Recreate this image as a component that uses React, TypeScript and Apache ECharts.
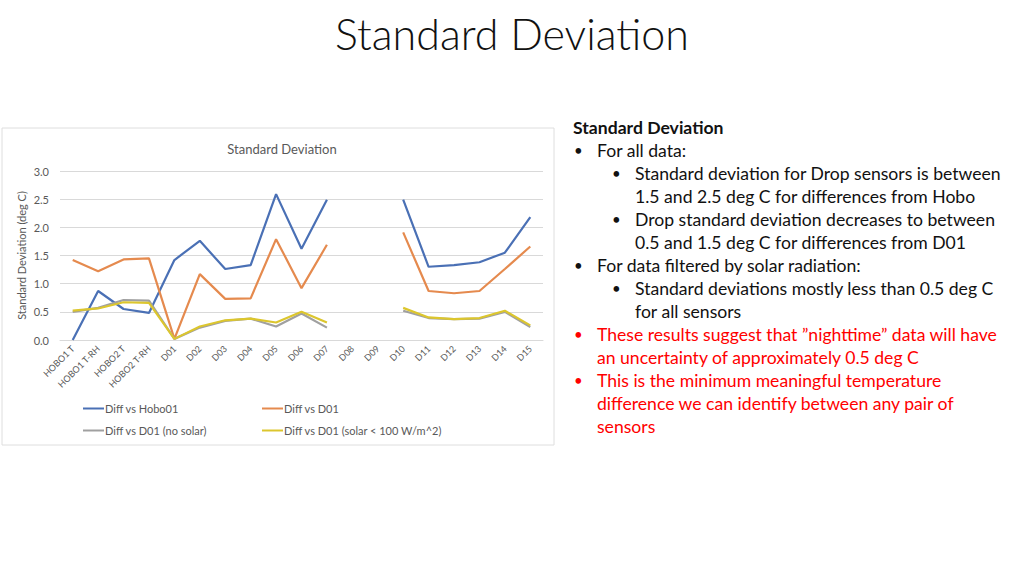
import React, { useEffect, useRef } from "react";
import * as echarts from "echarts";

const categories = [
  "HOBO1 T", "HOBO1 T-RH", "HOBO2 T", "HOBO2 T-RH",
  "D01", "D02", "D03", "D04", "D05", "D06", "D07", "D08", "D09",
  "D10", "D11", "D12", "D13", "D14", "D15",
];

const diffVsHobo01 = [0.0, 0.87, 0.55, 0.48, 1.42, 1.76, 1.26, 1.33, 2.59, 1.62, 2.49, null, null, 2.49, 1.30, 1.33, 1.38, 1.55, 2.18];
const diffVsD01 = [1.42, 1.22, 1.43, 1.45, 0.02, 1.17, 0.73, 0.74, 1.79, 0.92, 1.69, null, null, 1.91, 0.87, 0.83, 0.87, 1.26, 1.66];
const diffNoSolar = [0.50, 0.57, 0.71, 0.70, 0.02, 0.22, 0.34, 0.38, 0.24, 0.47, 0.22, null, null, 0.52, 0.39, 0.37, 0.38, 0.50, 0.23];
const diffSolar100 = [0.52, 0.56, 0.67, 0.66, 0.02, 0.24, 0.35, 0.38, 0.31, 0.50, 0.31, null, null, 0.57, 0.40, 0.37, 0.39, 0.52, 0.26];

const seriesNames = ["Diff vs Hobo01", "Diff vs D01", "Diff vs D01 (no solar)", "Diff vs D01 (solar < 100 W/m^2)"];
const seriesColors = ["#4a70b5", "#e58a4e", "#a0a0a0", "#dcc62e"];

const yTicks = { min: 0, max: 3, interval: 0.5 };

const bulletLines: { text: string; level: number; bullet: boolean; red?: boolean; bold?: boolean }[] = [
  { text: "Standard Deviation", level: 0, bullet: false, bold: true },
  { text: "For all data:", level: 1, bullet: true },
  { text: "Standard deviation for Drop sensors is between", level: 2, bullet: true },
  { text: "1.5 and 2.5 deg C for differences from Hobo", level: 2, bullet: false },
  { text: "Drop standard deviation decreases to between", level: 2, bullet: true },
  { text: "0.5 and 1.5 deg C for differences from D01", level: 2, bullet: false },
  { text: "For data filtered by solar radiation:", level: 1, bullet: true },
  { text: "Standard deviations mostly less than 0.5 deg C", level: 2, bullet: true },
  { text: "for all sensors", level: 2, bullet: false },
  { text: "These results suggest that \u201dnighttime\u201d data will have", level: 1, bullet: true, red: true },
  { text: "an uncertainty of approximately 0.5 deg C", level: 1, bullet: false, red: true },
  { text: "This is the minimum meaningful temperature", level: 1, bullet: true, red: true },
  { text: "difference we can identify between any pair of", level: 1, bullet: false, red: true },
  { text: "sensors", level: 1, bullet: false, red: true },
];

export default function App() {
  const ref = useRef<HTMLDivElement>(null);

  useEffect(() => {
    if (!ref.current) return;
    const chart = echarts.init(ref.current, undefined, { renderer: "svg" });
    const font = "Lato, 'Open Sans', sans-serif";

    const textElems: any[] = [];
    bulletLines.forEach((l, i) => {
      const y = 127 + i * 23;
      const color = l.red ? "#ff0000" : "#111111";
      const textX = l.level === 0 ? 573 : l.level === 1 ? 597 : 635;
      const bulletX = l.level === 1 ? 574 : 612;
      if (l.bullet) {
        textElems.push({
          type: "text", x: bulletX, y, silent: true,
          style: { text: "\u2022", fill: color, font: `15px ${font}`, textVerticalAlign: "middle" },
        });
      }
      textElems.push({
        type: "text", x: textX, y, silent: true,
        style: {
          text: l.text, fill: color,
          font: `${l.bold ? "bold " : ""}17.6px ${font}`, textVerticalAlign: "middle",
        },
      });
    });

    const legendPos = [
      { left: 78, top: 398 },
      { left: 257, top: 398 },
      { left: 78, top: 420 },
      { left: 257, top: 420 },
    ];

    chart.setOption({
      animation: false,
      backgroundColor: "#ffffff",
      title: {
        text: "Standard Deviation",
        left: 277, top: 137, textAlign: "center",
        textStyle: { fontFamily: font, fontSize: 13, fontWeight: "normal", color: "#595959" },
      },
      graphic: [
        {
          type: "rect", z: -10, silent: true,
          shape: { x: 2, y: 128, width: 552, height: 317 },
          style: { fill: "#ffffff", stroke: "#dedede", lineWidth: 1 },
        },
        {
          type: "text", left: "center", top: 12, silent: true,
          style: { text: "Standard Deviation", fill: "#111111", font: `300 43px ${font}` },
        },
        ...textElems,
      ],
      legend: legendPos.map((p, i) => ({
        data: [seriesNames[i]],
        left: p.left, top: p.top,
        icon: "rect", itemWidth: 21, itemHeight: 2, itemGap: 0,
        textStyle: { fontFamily: font, fontSize: 11, color: "#595959", padding: [0, 0, 0, -4] },
      })),
      grid: { left: 60, right: 481, top: 171, bottom: 236 },
      xAxis: {
        type: "category",
        data: categories,
        boundaryGap: true,
        axisLine: { lineStyle: { color: "#d9d9d9" } },
        axisTick: { show: false },
        axisLabel: { rotate: 45, fontSize: 9, color: "#595959", fontFamily: font, margin: 7, interval: 0 },
      },
      yAxis: {
        type: "value",
        min: yTicks.min, max: yTicks.max, interval: yTicks.interval,
        name: "Standard Deviation (deg C)",
        nameLocation: "middle", nameGap: 33,
        nameTextStyle: { fontFamily: font, fontSize: 11, color: "#595959" },
        axisLine: { show: false },
        axisTick: { show: false },
        axisLabel: {
          fontSize: 11, color: "#595959", fontFamily: font, margin: 11,
          formatter: (v: number) => v.toFixed(1),
        },
        splitLine: { lineStyle: { color: "#d9d9d9" } },
      },
      series: [diffVsHobo01, diffVsD01, diffNoSolar, diffSolar100].map((d, i) => ({
        name: seriesNames[i],
        type: "line",
        data: d,
        showSymbol: false,
        connectNulls: false,
        color: seriesColors[i],
        lineStyle: { width: 2.2, color: seriesColors[i] },
        z: 2 + i,
      })),
    });

    return () => chart.dispose();
  }, []);

  return (
    <div
      ref={ref}
      style={{ position: "fixed", left: 0, top: 0, width: 1024, height: 576 }}
    />
  );
}
